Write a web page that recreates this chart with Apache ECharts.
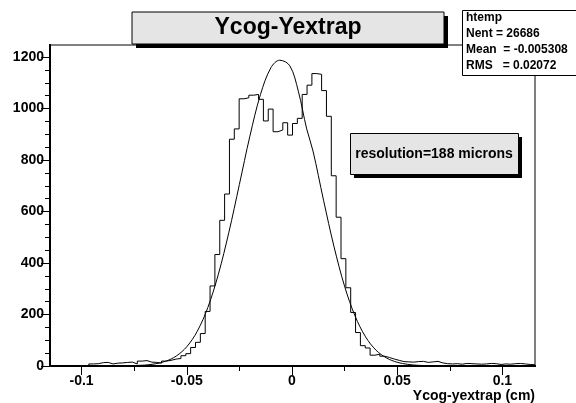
<!DOCTYPE html>
<html>
<head>
<meta charset="utf-8">
<script src="https://cdn.jsdelivr.net/npm/echarts@6/dist/echarts.min.js"></script>
<style>
html,body{margin:0;padding:0;background:#fff;}
#chart{width:576px;height:403px;}
</style>
</head>
<body>
<div id="chart"></div>
<script>
// ---- data ----
const binLow = -0.115;
const binWidth = 0.002305;
const counts = [
  0, 0, 0, 0, 0, 0, 0, 0, 8, 9,
  13, 14, 8, 11, 12, 14, 15, 8, 19, 21,
  15, 14, 11, 19, 22, 27, 29, 40, 48, 72,
  92, 126, 212, 311, 433, 566, 668, 881, 921, 1038,
  1042, 1052, 1055, 1036, 952, 998, 910, 917, 945, 897,
  942, 962, 1055, 1091, 1136, 1133, 1070, 970, 739, 578,
  417, 304, 208, 130, 79, 70, 42, 46, 38, 33,
  27, 22, 17, 16, 15, 17, 18, 14, 16, 18,
  12, 9, 8, 9, 7, 10, 9, 8, 7, 8,
  10, 9, 6, 8, 7, 9, 10, 8, 6, 5
];
const fitX = [-0.11, -0.1, -0.09, -0.08, -0.07, -0.065, -0.06, -0.055, -0.05, -0.045,
  -0.04, -0.035, -0.03, -0.025, -0.02, -0.015, -0.01, -0.0058, -0.001, 0.003,
  0.007, 0.01, 0.015, 0.02, 0.025, 0.03, 0.035, 0.04, 0.045, 0.05,
  0.055, 0.06, 0.07, 0.08, 0.09, 0.1, 0.11];
const fitY = [0, 0, 0.05, 0.5, 3.5, 8.4, 18.6, 38.7, 74.9, 135,
  227, 356, 519, 705, 893, 1054, 1159, 1188, 1166, 1068,
  921, 835, 644, 463, 310, 194, 113, 61, 31, 14.5,
  6.4, 2.6, 0.35, 0.03, 0, 0, 0];
const xTicks = [-0.1, -0.05, 0, 0.05, 0.1];
const xMinorTicks = [-0.075, -0.025, 0.025, 0.075];
const yTicks = [0, 200, 400, 600, 800, 1000, 1200];
const yMinorTicks = [50, 100, 150, 250, 300, 350, 450, 500, 550, 650, 700, 750, 850, 900, 950, 1050, 1100, 1150];
const titleText = 'Ycog-Yextrap';
const xTitle = 'Ycog-yextrap (cm)';
const statsLines = ['htemp', 'Nent = 26686', 'Mean  = -0.005308', 'RMS   = 0.02072'];
const resolutionText = 'resolution=188 microns';

// ---- build ----
const FONT = '"Liberation Sans", Arial, Helvetica, sans-serif';
const X_MIN = -0.115, X_MAX = 0.1155, Y_MAX = 1247;

const histData = counts.map((c, i) => [binLow + i * binWidth, c]);
histData.push([binLow + counts.length * binWidth, counts[counts.length - 1]]);
const fitData = fitX.map((x, i) => [x, fitY[i]]);

const chart = echarts.init(document.getElementById('chart'), null, {renderer: 'canvas'});

const graphics = [
  // title box
  {type: 'rect', shape: {x: 136, y: 16, width: 312, height: 32}, style: {fill: '#000'}, z: 100},
  {type: 'rect', shape: {x: 132, y: 12, width: 312, height: 32}, style: {fill: '#e5e5e5', stroke: '#000', lineWidth: 1}, z: 101},
  {type: 'text', x: 288, y: 28, style: {text: titleText, font: 'bold 23px ' + FONT, fill: '#000', align: 'center', verticalAlign: 'middle'}, z: 102},
  // stats box
  {type: 'rect', shape: {x: 462.5, y: 10.5, width: 120, height: 65}, style: {fill: '#fff', stroke: '#000', lineWidth: 1}, z: 101},
  // resolution box
  {type: 'rect', shape: {x: 354, y: 137, width: 168, height: 41}, style: {fill: '#000'}, z: 100},
  {type: 'rect', shape: {x: 350.5, y: 133.5, width: 168, height: 41}, style: {fill: '#e5e5e5', stroke: '#000', lineWidth: 1}, z: 101},
  {type: 'text', x: 434, y: 154, style: {text: resolutionText, font: 'bold 14px ' + FONT, fill: '#000', align: 'center', verticalAlign: 'middle'}, z: 102}
];
statsLines.forEach((t, i) => {
  graphics.push({type: 'text', x: 466, y: 18 + i * 16, style: {text: t, font: 'bold 12px ' + FONT, fill: '#000', align: 'left', verticalAlign: 'middle'}, z: 102});
});

const labelStyle = {fontFamily: FONT, fontWeight: 'bold', fontSize: 14, color: '#000'};
const xLine = {show: true, onZero: true, onZeroAxisIndex: 0, lineStyle: {color: '#000', width: 2}};
const yLine = {show: true, onZero: true, onZeroAxisIndex: 3, lineStyle: {color: '#000', width: 2}};

function tickAxis(min, max, values, len, line) {
  return {
    type: 'value', min: min, max: max,
    axisLine: line,
    axisTick: {show: true, inside: true, length: len, customValues: values, lineStyle: {color: '#000', width: 1}},
    axisLabel: {show: false},
    splitLine: {show: false}
  };
}

const option = {
  animation: false,
  backgroundColor: '#fff',
  grid: {left: 50, right: 41, top: 45, bottom: 36, show: true, borderColor: '#000', borderWidth: 1, backgroundColor: 'transparent'},
  xAxis: [
    {
      type: 'value', min: X_MIN, max: X_MAX,
      axisLine: xLine,
      axisTick: {show: false},
      axisLabel: Object.assign({customValues: xTicks, margin: 8, formatter: v => String(v)}, labelStyle),
      splitLine: {show: false},
      name: xTitle, nameLocation: 'end', nameGap: 0,
      nameTextStyle: Object.assign({align: 'right', verticalAlign: 'top', padding: [23, 0, 0, 0]}, labelStyle)
    },
    tickAxis(X_MIN, X_MAX, xTicks, 9, xLine),
    tickAxis(X_MIN, X_MAX, xMinorTicks, 5, xLine),
    {
      // helper axis whose zero sits on the left frame edge (anchors the y axes)
      type: 'value', min: 0, max: 1, show: false
    }
  ],
  yAxis: [
    {
      type: 'value', min: 0, max: Y_MAX,
      axisLine: yLine,
      axisTick: {show: false},
      axisLabel: Object.assign({customValues: yTicks, margin: 6, formatter: v => String(v)}, labelStyle),
      splitLine: {show: false}
    },
    tickAxis(0, Y_MAX, yTicks, 9, yLine),
    tickAxis(0, Y_MAX, yMinorTicks, 5, yLine)
  ],
  series: [
    {
      type: 'line', name: 'htemp', data: histData, step: 'end', xAxisIndex: 0, yAxisIndex: 0,
      showSymbol: false, symbol: 'none', lineStyle: {color: '#000', width: 1}, z: 3, clip: true
    },
    {
      type: 'line', name: 'fit', data: fitData, smooth: 0.35, xAxisIndex: 0, yAxisIndex: 0,
      showSymbol: false, symbol: 'none', lineStyle: {color: '#000', width: 1}, z: 4, clip: true
    }
  ],
  graphic: graphics
};
chart.setOption(option);
</script>
</body>
</html>
